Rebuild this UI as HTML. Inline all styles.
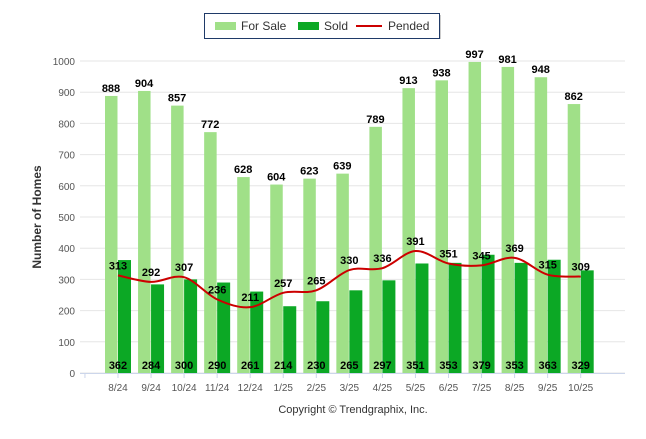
<!DOCTYPE html>
<html><head><meta charset="utf-8"><style>
body{margin:0;background:#fff;font-family:"Liberation Sans",Arial,sans-serif}
</style></head><body>
<svg id="c" width="646" height="434" xmlns="http://www.w3.org/2000/svg" font-family="Liberation Sans, Arial, sans-serif"></svg>
<script>
const categories=["8/24","9/24","10/24","11/24","12/24","1/25","2/25","3/25","4/25","5/25","6/25","7/25","8/25","9/25","10/25"];
const forSale=[888,904,857,772,628,604,623,639,789,913,938,997,981,948,862];
const sold=[362,284,300,290,261,214,230,265,297,351,353,379,353,363,329];
const pended=[313,292,307,236,211,257,265,330,336,391,351,345,369,315,309];
const yTicks=[0,100,200,300,400,500,600,700,800,900,1000];
const svg=document.getElementById('c');const NS='http://www.w3.org/2000/svg';
function y(v){return 373-v*0.312;}
function x(i){return 118+i*33.05;}
function mk(t,a,p){const e=document.createElementNS(NS,t);for(const k in a)e.setAttribute(k,a[k]);(p||svg).appendChild(e);return e;}
yTicks.forEach(v=>{
 const g=mk('line',{x1:80,x2:625,y1:y(v),y2:y(v),stroke:'#e6e6e6','stroke-width':1});
 
 
 const t=mk('text',{x:75,y:y(v)+4,'text-anchor':'end','font-size':10,fill:'#555'});t.textContent=v;
 
 
});
mk('line',{x1:80,x2:625,y1:373.5,y2:373.5,stroke:'#ccd6eb'});
for(let i=-1;i<categories.length;i++){mk('line',{x1:x(i),x2:x(i),y1:373,y2:378,stroke:'#ccd6eb'});}
categories.forEach((c,i)=>{
 const b1=mk('rect',{x:x(i)-13,y:y(forSale[i]),width:12.5,height:373-y(forSale[i]),fill:'#a0e088'});
 
 
 const b2=mk('rect',{x:x(i),y:y(sold[i]),width:13,height:373-y(sold[i]),fill:'#0ca825'});
 
 
 const t=mk('text',{x:x(i)-7,y:y(forSale[i])-4,'text-anchor':'middle','font-size':11,'font-weight':'bold',fill:'#000'});t.textContent=forSale[i];
 
 
 const s=mk('text',{x:x(i),y:369,'text-anchor':'middle','font-size':11,'font-weight':'bold',fill:'#000'});s.textContent=sold[i];
 
 
 const l=mk('text',{x:x(i),y:391,'text-anchor':'middle','font-size':10,fill:'#555'});l.textContent=c;
 
 
});
// smooth pended line (catmull-rom)
let d='M'+x(0)+','+y(pended[0]);
for(let i=0;i<pended.length-1;i++){
 const p0=[x(Math.max(i-1,0)),y(pended[Math.max(i-1,0)])],p1=[x(i),y(pended[i])],p2=[x(i+1),y(pended[i+1])],p3=[x(Math.min(i+2,pended.length-1)),y(pended[Math.min(i+2,pended.length-1)])];
 const c1=[p1[0]+(p2[0]-p0[0])/6,p1[1]+(p2[1]-p0[1])/6],c2=[p2[0]-(p3[0]-p1[0])/6,p2[1]-(p3[1]-p1[1])/6];
 d+=' C'+c1+' '+c2+' '+p2;
}
const pl=mk('path',{d:d,fill:'none',stroke:'#cc0000','stroke-width':2});


pended.forEach((v,i)=>{
 const t=mk('text',{x:x(i),y:y(v)-6,'text-anchor':'middle','font-size':11,'font-weight':'bold',fill:'#000'});t.textContent=v;
 
 
});
</script>
<svg style="position:absolute;left:0;top:0" width="646" height="434" xmlns="http://www.w3.org/2000/svg" font-family="Liberation Sans, Arial, sans-serif">
<g>
<rect x="206" y="15" width="235" height="24" fill="#999" opacity="0.5"/>
<rect x="204.5" y="13.5" width="235" height="25" fill="#fff" stroke="#1f3a68"/>
<g><rect x="215" y="22" width="21" height="8" fill="#a0e088"/><text x="241" y="30" font-size="12" fill="#333">For Sale</text></g>
<g><rect x="298" y="22" width="21" height="8" fill="#0ca825"/><text x="324" y="30" font-size="12" fill="#333">Sold</text></g>
<g><line x1="356" x2="382" y1="26" y2="26" stroke="#cc0000" stroke-width="2"/><text x="388" y="30" font-size="12" fill="#333">Pended</text></g>
</g>
<text transform="translate(41,217) rotate(-90)" text-anchor="middle" font-size="12" font-weight="bold" fill="#333">Number of Homes</text>
<text x="353" y="413" text-anchor="middle" font-size="11" fill="#333">Copyright © Trendgraphix, Inc.</text>
</svg>
</body></html>
